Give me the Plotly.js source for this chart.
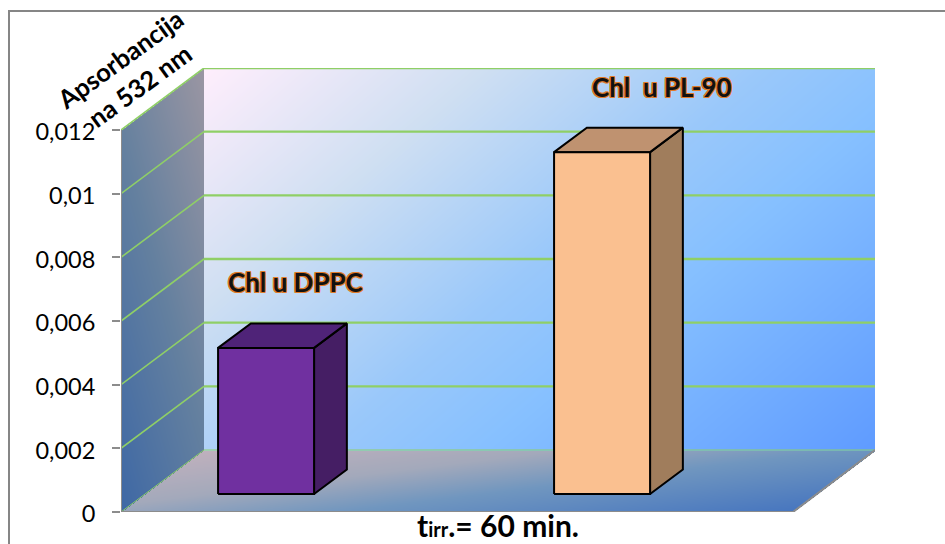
<!DOCTYPE html>
<html><head><meta charset="utf-8">
<script src="https://cdn.plot.ly/plotly-3.0.1.min.js"></script>
<style>html,body{margin:0;padding:0;background:#fff}#c{width:945px;height:544px}</style>
</head><body><div id="c"></div>
<script>
// ---- data ----
const categories = ['Chl u DPPC', 'Chl  u PL-90'];
const values = [0.00459, 0.01074];
const tickVals = [0, 0.002, 0.004, 0.006, 0.008, 0.01, 0.012];
const tickText = ['0', '0,002', '0,004', '0,006', '0,008', '0,01', '0,012'];
const yTitle = 'Apsorbancija<br>na 532 nm';
const xTitle = 't<span style="font-size:20px">irr</span>.= 60 min.';
// ---- colours ----
const barFront = ['#7030a0', '#fac090'];
const barSide = ['#451e64', '#a07d5c'];
const barTop = ['#4f2378', '#bf9270'];
const grid = '#8fcf66', edge = '#8c8c8c';
// ---- geometry of the pseudo-3D box, in pixels ----
const L = 121, T = 68, W = 754, H = 444, frontW = 672, dxPx = 83, dyPx = 62;
const pxPerVal = 382 / 0.012, pxPerCat = 336;
const xRange = [(L - 242) / pxPerCat, (L + W - 242) / pxPerCat];
const yRange = [0, H / pxPerVal];
const DX = dxPx / pxPerCat, DY = dyPx / pxPerVal;
const X = p => xRange[0] + (p - L) / pxPerCat;
const depthFront = 0.29, depthBack = 0.685, halfW = 48 / pxPerCat;
const proj = (c, v, d) => [c + d * DX, v + d * DY];

// gradient walls as masked heatmaps
function wall(name, inside, tf, scale) {
  const xs = [], ys = [], z = [];
  for (let i = 0; i <= W; i++) xs.push(X(L + i));
  for (let j = 0; j <= H; j++) ys.push(j / pxPerVal);
  for (let j = 0; j <= H; j++) {
    const r = [];
    for (let i = 0; i <= W; i++) r.push(inside(i, j) ? tf(i, j) : null);
    z.push(r);
  }
  return {type: 'heatmap', name, x: xs, y: ys, z, zmin: 0, zmax: 1, colorscale: scale,
    showscale: false, hoverinfo: 'skip', zsmooth: false, connectgaps: false};
}
const back = wall('back wall', (i, j) => i >= dxPx && j >= dyPx,
  (i, j) => (i - dxPx) / (W - dxPx) * 0.6 + (H - j) / (H - dyPx) * 0.4,
  [[0, '#ffeefc'], [0.25, '#cfdff2'], [0.5, '#9ac8fa'], [0.65, '#86c0ff'], [1, '#5f9bff']]);
const side = wall('side wall', (i, j) => i < dxPx && j <= i * dyPx / dxPx + (H - dyPx) && j >= i * dyPx / dxPx,
  (i, j) => (dxPx - i) / dxPx * 0.4 + (H - j) / H * 0.6,
  [[0, '#9b96a2'], [0.5, '#64809f'], [1, '#3e68a5']]);
const floor = wall('floor', (i, j) => j < dyPx && i >= j * dxPx / dyPx && i <= frontW + j * dxPx / dyPx,
  (i, j) => i / W * 0.6 + (dyPx - j) / dyPx * 0.4,
  [[0, '#c6b2bd'], [0.35, '#a3a9bb'], [0.57, '#7096bf'], [0.93, '#4776bf'], [1, '#4776bf']]);

const traces = [back, side, floor];
const x0 = xRange[0], xF = X(L + frontW);
// gridlines: side wall then back wall
tickVals.forEach((v, k) => {
  traces.push({type: 'scatter', mode: 'lines', hoverinfo: 'skip', showlegend: false,
    x: [x0, x0 + DX], y: [v, v + DY], line: {color: grid, width: k === 0 ? 1 : 1.6}});
  traces.push({type: 'scatter', mode: 'lines', hoverinfo: 'skip', showlegend: false,
    x: [x0 + DX, xRange[1]], y: [v + DY, v + DY], line: {color: grid, width: k === 0 ? 1 : 2.4}});
});
// floor front and right edges, value axis line
traces.push({type: 'scatter', mode: 'lines', hoverinfo: 'skip', showlegend: false,
  x: [xRange[1], xF, x0, x0], y: [DY, 0, 0, 0.012], line: {color: edge, width: 2}});

// bars
categories.forEach((c, i) => {
  const v = values[i], l = i - halfW, r = i + halfW;
  const poly = pts => ({x: pts.map(p => p[0]).concat(pts[0][0]), y: pts.map(p => p[1]).concat(pts[0][1])});
  const add = (pts, col, hover) => traces.push(Object.assign(poly(pts), {type: 'scatter', mode: 'lines', fill: 'toself',
    fillcolor: col, line: {color: '#000', width: 2}, showlegend: false, name: c,
    hoverinfo: hover ? 'text' : 'skip', text: hover ? c + ': ' + String(v).replace('.', ',') : undefined}));
  add([proj(r, 0, depthFront), proj(r, 0, depthBack), proj(r, v, depthBack), proj(r, v, depthFront)], barSide[i]);
  add([proj(l, v, depthFront), proj(r, v, depthFront), proj(r, v, depthBack), proj(l, v, depthBack)], barTop[i]);
  add([proj(l, 0, depthFront), proj(r, 0, depthFront), proj(r, v, depthFront), proj(l, v, depthFront)], barFront[i], true);
});

const outline = ['1px 0 #e07a28', '-1px 0 #e07a28', '0 1px #e07a28', '0 -1px #e07a28',
  '1px 1px #e07a28', '-1px -1px #e07a28', '1px -1px #e07a28', '-1px 1px #e07a28'].join(',');
const labelOffsets = [[29, 66], [60, 65]]; // px from bar front-top centre
const annotations = categories.map((c, i) => {
  const [cx, cy] = proj(i, values[i], depthFront);
  return {x: cx + labelOffsets[i][0] / pxPerCat, y: cy + labelOffsets[i][1] / pxPerVal, xref: 'x', yref: 'y',
    text: '<b>' + c + '</b>', showarrow: false,
    font: {family: 'Lato', size: 26, color: '#111', shadow: outline}};
});
annotations.push({xref: 'paper', yref: 'paper', x: (129 - L) / W, y: 1 + (T - 72) / H, xanchor: 'center', yanchor: 'middle',
  text: '<b>' + yTitle + '</b>', textangle: -36, showarrow: false,
  font: {family: 'Lato', size: 25.5, color: '#000'}});

const layout = {
  width: 945, height: 544, margin: {l: L, t: T, r: 945 - L - W, b: 544 - T - H},
  paper_bgcolor: '#fff', plot_bgcolor: 'rgba(0,0,0,0)', showlegend: false, hovermode: 'closest',
  font: {family: 'Lato', color: '#000'},
  xaxis: {range: xRange, showgrid: false, zeroline: false, showline: false, ticks: '', showticklabels: false,
    title: {text: '<b>' + xTitle + '</b>', standoff: 3, font: {family: 'Lato', size: 30, color: '#000'}}},
  yaxis: {range: yRange, showgrid: false, zeroline: false, showline: false, tickmode: 'array',
    tickvals: tickVals, ticktext: tickText, ticks: 'outside', ticklen: 8, tickwidth: 2, tickcolor: edge,
    ticklabelstandoff: 12, ticklabelshift: 2,
    tickfont: {family: 'Lato', size: 23.5, color: '#000'}},
  annotations,
  shapes: [{type: 'rect', xref: 'paper', yref: 'paper', layer: 'below',
    x0: (9 - L) / W, x1: (960 - L) / W, y0: 1 - (560 - T) / H, y1: 1 - (11 - T) / H,
    line: {color: '#868686', width: 2}}]
};
Plotly.newPlot('c', traces, layout, {displayModeBar: false});
</script></body></html>
